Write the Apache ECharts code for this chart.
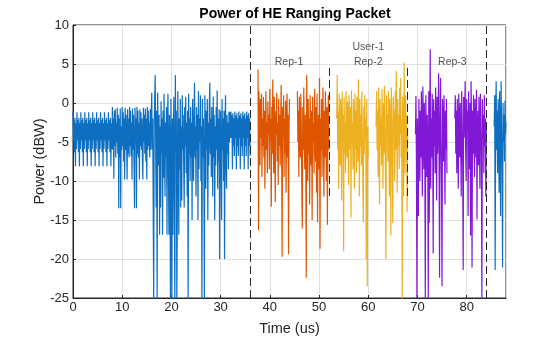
<!DOCTYPE html>
<html>
<head>
<meta charset="utf-8">
<script src="https://cdn.jsdelivr.net/npm/echarts@6/dist/echarts.min.js"></script>
<style>html,body{margin:0;padding:0;background:#fff}#c{width:560px;height:337px}</style>
</head>
<body>
<div id="c"></div>
<script>
// ---- Data (power in dBW) ----
const titleText = 'Power of HE Ranging Packet';
const xLabel = 'Time (us)';
const yLabel = 'Power (dBW)';
const yTicks = [-25, -20, -15, -10, -5, 0, 5, 10];
const xTicks = [0, 10, 20, 30, 40, 50, 60, 70, 80];

// Preamble: 0 .. 36 us, 0.1 us step
const preambleStart = 0, preambleStep = 0.1;
const preamble = [
 -1.2,-4.8,-2.2,-6.3,-1.9,-8.1,-2.6,-5.9, -1.2,-4.8,-2.2,-6.3,-1.9,-8.1,-2.6,-5.9,
 -1.2,-4.8,-2.2,-6.3,-1.9,-8.1,-2.6,-5.9, -1.2,-4.8,-2.2,-6.3,-1.9,-8.1,-2.6,-5.9,
 -1.2,-4.8,-2.2,-6.3,-1.9,-8.1,-2.6,-5.9, -1.2,-4.8,-2.2,-6.3,-1.9,-8.1,-2.6,-5.9,
 -1.2,-4.8,-2.2,-6.3,-1.9,-8.1,-2.6,-5.9, -1.2,-4.8,-2.2,-6.3,-1.9,-8.1,-2.6,-5.9,
 -1.2,-4.8,-2.2,-6.3,-1.9,-8.1,-2.6,-5.9, -1.2,-4.8,-2.2,-6.3,-1.9,-8.1,-2.6,-5.9,
 -0.5,-6.0,-2.0,-9.7,-1.0,-5.5,-0.8,-7.0,-2.5,-5.0,
 -0.6,-6.5,-1.5,-13.5,-2.0,-7.0,-0.7,-13.5,-3.0,-6.0,
 -0.5,-5.5,-1.2,-7.5,-2.0,-9.8,-0.6,-6.0,-1.5,-5.0,
 -9.8,-0.8,-6.5,-2.0,-7.0,-0.5,-5.5,-1.0,-6.8,-2.5,
 -9.8,-0.7,-6.0,-1.5,-7.5,-13.5,-0.6,-5.0,-2.0,-13.5,
 -0.5,-6.5,-1.0,-7.0,-2.5,-9.8,-0.8,-5.5,-1.2,-6.0,
 -2.0,-7.0,-9.8,-0.6,-5.0,-1.5,-6.5,-0.7,-7.5,-2.0,
 -9.8,-0.5,-6.0,-1.0,-5.5,-2.5,-7.0,-0.8,-6.0,-1.5,
 1.3,-6.0,-2.0,-13.4,-26,-3.0,0.5,3.6,-5.0,-13.4,
 -1.0,-26,1.3,-4.0,-8.0,-1.5,-16.9,-3.0,-13.4,0.2,
 -6.5,-2.0,-16.9,-1.0,-9.6,1.2,-5.0,-12.0,-2.5,-7.0,
 -0.5,-16.9,-3.0,1.2,-9.0,-16.9,-1.5,-5.5,-26,0.5,
 -7.0,-26,-2.0,-16.9,-4.0,0.8,-13.4,-26,3.6,-6.0,
 -1.0,-26,-14.0,1.5,-5.0,-16.9,-2.0,-8.5,0.5,-13.4,
 -3.0,-12.5,1.0,-6.0,-1.5,-8.0,-13.4,-0.5,-5.5,0.8,
 -9.0,-2.5,-12.0,-1.0,-26,1.2,-6.5,-2.0,-10.0,-0.5,
 -7.0,-2.5,-15.0,0.5,-5.5,-10.0,-1.0,2.6,-7.0,-3.0,
 -12.0,-0.5,-6.0,-1.5,-15.0,1.5,-8.5,-2.0,-5.0,1.0,
 -10.0,-3.0,-26,0.5,-7.0,-2.0,-9.0,-26,1.0,-4.0,
 -11.0,-1.0,-6.0,0.5,-15.0,-2.5,-8.0,-0.5,2.6,-6.5,
 -2.0,-9.5,-0.5,-5.0,-12.0,0.8,-7.0,-1.5,-15.0,-3.0,
 -8.0,-0.5,-6.0,1.6,-11.0,-2.0,-7.5,-0.8,-20.0,-4.0,
 -1.0,-9.0,-15.0,0.5,-6.0,-2.0,-10.0,-1.0,-20.0,-3.5,
 1.0,-8.0,-11.0,-1.5,-6.5,-2.5,-8.5,-1.1,-5.0,-1.2,
 -4.5,-1.1,-4.5,-1.6,-8.5,-1.3,-5.5,-2.0,-6.8,-1.1,
 -4.5,-1.6,-8.5,-1.3,-5.5,-2.0,-6.8,-1.1,-4.5,-1.6,
 -8.5,-1.3,-5.5,-2.0,-6.8,-1.1,-4.5,-1.6,-8.5,-1.3,
 -5.5,-2.0,-6.8,-1.1,-4.5,-1.6,-8.5,-1.3,-5.5,-2.0,
 -6.8
];

// Repetition bursts: 0.1 us step
const burstStep = 0.1;
const rep1aStart = 37.6;
const rep1a = [4.3,-16.3,1.5,-3.0,-8.0,0.5,-4.5,1.2,-9.5,-2.0,-5.5,0.8,-7.0,-1.0,-11.0,-3.5,1.5,-6.0,-2.5,-9.0,
 0.2,-4.0,-1.5,-8.5,1.8,-5.0,-2.0,-13.3,-0.5,-6.5,3.0,-3.5,-9.0,0.8,-5.0,-12.7,-1.0,-4.0,1.3,-7.5,
 -2.5,-10.5,0.5,-5.5,-1.5,-8.0,-3.0,2.3,-6.0,-19.7,-0.5,-4.5,1.0,-9.5,-2.0,-6.5,0.3,-11.5,-3.0,1.2,
 -7.0,-1.5,-19.4,-4.0,0.5];
const rep1bStart = 45.6;
const rep1b = [1.5,-5.0,-1.0,-9.5,0.8,-3.5,-7.0,1.2,-2.5,-11.0,-16.1,-0.5,-6.0,2.0,-4.0,-8.5,-1.5,-5.5,-22.4,3.6,
 -3.0,-10.0,0.5,-6.5,-2.0,-13.0,1.0,-4.5,-8.0,-1.0,-15.0,0.8,-5.0,-2.5,-9.0,1.8,-3.5,-7.5,-0.5,-11.5,
 1.2,-15.3,-4.0,-1.5,-8.5,3.2,-18.7,-2.0,-6.0,0.5,-9.5,-3.0,2.0,-5.5,-12.0,-1.0,-7.0,1.5,-4.0,-10.0,
 -0.5,-15.6,-3.0,1.0,-6.0];
const rep2aStart = 53.6;
const rep2a = [-2.0,3.6,-6.0,-1.0,-11.0,1.2,-4.0,-8.0,0.5,-3.0,-12.5,1.5,-5.0,-1.5,-19.0,0.8,-6.5,-2.5,-9.0,1.5,
 -3.5,-7.0,0.2,-4.5,-10.5,1.0,-2.0,-6.0,-0.5,-14.7,1.6,-5.0,-2.5,-8.5,0.5,-3.5,-11.0,1.2,-6.0,-1.0,
 -9.0,0.8,-4.0,-7.5,3.0,-2.5,-12.0,0.5,-5.5,-1.5,-8.0,1.5,-3.5,-10.0,-15.3,-0.5,-6.5,1.0,-4.5,-2.0,
 -20.0,0.5,-23.5,-3.0,-7.0];
const rep2bStart = 61.6;
const rep2b = [-3.0,1.5,-6.0,-1.0,-9.5,2.0,-4.0,-13.0,0.5,-5.5,-2.0,-8.0,1.8,-3.5,-11.0,0.0,-6.5,2.2,-2.5,-9.0,
 -20.0,1.0,-4.5,-1.5,-7.5,1.5,-3.0,-12.0,0.5,-5.0,-17.0,2.0,-2.0,-8.0,-15.4,0.8,-4.0,-1.0,-10.0,1.5,
 -6.0,4.1,-3.0,-11.5,0.5,-5.5,-1.5,-8.5,2.0,-4.0,3.2,-7.0,-2.0,-25.5,0.8,-5.0,-12.0,5.2,-3.0,-9.0,
 1.0,-6.0,-1.5,-14.0,-3.5];
const rep3aStart = 69.6;
const rep3a = [-4.0,0.9,-8.0,-26,-2.0,-6.0,-14.5,0.5,-3.5,-10.0,-1.0,-7.0,1.5,-4.5,-12.0,2.1,-2.5,-8.5,0.0,-5.5,
 -26,1.0,-3.0,-9.5,-1.5,-6.0,-26,1.5,-15.4,-4.0,6.9,-11.0,-2.0,-7.0,1.2,-3.5,-19.3,0.5,-5.5,-1.0,
 -9.0,2.0,-4.0,-12.5,0.8,-6.5,-2.0,3.8,-8.0,-22.4,-1.5,3.2,-5.0,-10.5,-23.5,0.5,-3.0,-7.5,1.0,-4.5,
 -13.0,-1.0,-6.0,0.5,-9.0];
const rep3bStart = 77.6;
const rep3b = [-2.0,1.0,-6.5,-1.0,-9.0,0.5,-4.0,-11.0,1.2,-3.0,-7.0,0.0,-5.0,-12.0,1.5,-2.5,-8.0,-21.4,0.8,-4.5,
 -1.5,2.8,-6.0,-10.0,0.5,-3.5,-1.0,-14.5,1.5,-5.5,-8.5,0.0,-17.0,2.8,-3.0,-21.1,-1.0,-6.5,1.0,-4.0,
 -9.5,0.5,-2.5,-7.0,1.7,-14.9,-3.5,-1.0,-8.0,0.8,-5.0,-11.0,1.2,-3.0,-6.5,-26,0.5,-4.5,-1.5,-9.0,
 1.0,-5.5,-2.0,-12.0,-3.0];
const tailStart = 85.6;
const tail = [-3.0,1.0,-21.4,-2.0,2.8,-6.0,-1.0,-9.0,0.5,-4.0,-11.5,1.5,-5.5,-14.5,2.8,-3.0,-8.0,-21.1,0.0,-5.0,
 -1.5,-7.5,0.3,-4.0,-2.5];

// Boundaries (us) and annotation labels
const fullBoundaries = [36, 84];
const shortBoundaries = [52, 68];
const shortBoundaryRange = [4.5, -12.4];
const annotations = [
  { x: 43.9, y: 5.2, text: 'Rep-1' },
  { x: 60.0, y: 7.2, text: 'User-1' },
  { x: 60.0, y: 5.2, text: 'Rep-2' },
  { x: 77.1, y: 5.2, text: 'Rep-3' }
];

// ---- Build ----
function pts(start, step, vals) {
  return vals.map((v, i) => [Math.round((start + i * step) * 1000) / 1000, v]);
}
const C = { blue: '#0E6FC1', orange: '#DD5500', yellow: '#EDB120', purple: '#8018D6' };
const ink = '#262626';
const font = 'Liberation Sans, Arial, Helvetica, sans-serif';

function lineSeries(data, color, extra) {
  return Object.assign({
    type: 'line', data: data, showSymbol: false, symbol: 'none', clip: true,
    lineStyle: { width: 1.2, color: color }, itemStyle: { color: color },
    animation: false, silent: true, z: 2
  }, extra || {});
}

const markLineData = fullBoundaries.map(x => ({ xAxis: x }))
  .concat(shortBoundaries.map(x => [{ coord: [x, shortBoundaryRange[0]] }, { coord: [x, shortBoundaryRange[1]] }]));

const chart = echarts.init(document.getElementById('c'), null, { renderer: 'canvas' });
chart.setOption({
  animation: false,
  backgroundColor: '#fff',
  title: {
    text: titleText, left: 290, top: 2, textAlign: 'center',
    textStyle: { fontFamily: font, fontSize: 14, fontWeight: 'bold', color: '#000' }
  },
  grid: { left: 73, right: 54, top: 25, bottom: 39, show: true, borderColor: ink, borderWidth: 1,
          containLabel: false, outerBoundsMode: 'none' },
  xAxis: {
    type: 'value', min: 0, max: 88, interval: 10,
    name: xLabel, nameLocation: 'middle', nameGap: 23, nameMoveOverlap: false,
    nameTextStyle: { fontFamily: font, fontSize: 14.5, color: ink },
    axisLine: { show: true, onZero: false, lineStyle: { color: ink } },
    axisTick: { show: true, inside: true, length: 3, lineStyle: { color: ink } },
    axisLabel: { fontFamily: font, fontSize: 13, color: ink, margin: 3, showMaxLabel: false,
      formatter: v => (xTicks.indexOf(v) >= 0 ? String(v) : '') },
    splitLine: { show: true, lineStyle: { color: '#DFDFDF', width: 1 } }
  },
  yAxis: {
    type: 'value', min: -25, max: 10, interval: 5,
    name: yLabel, nameLocation: 'middle', nameGap: 26, nameRotate: 90, nameMoveOverlap: false,
    nameTextStyle: { fontFamily: font, fontSize: 14.5, color: ink },
    axisLine: { show: true, onZero: false, lineStyle: { color: ink } },
    axisTick: { show: true, inside: true, length: 3, lineStyle: { color: ink } },
    axisLabel: { fontFamily: font, fontSize: 13, color: ink, margin: 4,
      formatter: v => (yTicks.indexOf(v) >= 0 ? String(v) : '') },
    splitLine: { show: true, lineStyle: { color: '#DFDFDF', width: 1 } }
  },
  series: [
    lineSeries(pts(preambleStart, preambleStep, preamble), C.blue, {
      markLine: {
        silent: true, symbol: 'none', animation: false, label: { show: false },
        lineStyle: { color: ink, width: 1, type: [8, 4] },
        data: markLineData
      }
    }),
    lineSeries(pts(rep1aStart, burstStep, rep1a), C.orange),
    lineSeries(pts(rep1bStart, burstStep, rep1b), C.orange),
    lineSeries(pts(rep2aStart, burstStep, rep2a), C.yellow),
    lineSeries(pts(rep2bStart, burstStep, rep2b), C.yellow),
    lineSeries(pts(rep3aStart, burstStep, rep3a), C.purple),
    lineSeries(pts(rep3bStart, burstStep, rep3b), C.purple),
    lineSeries(pts(tailStart, burstStep, tail), C.blue),
    {
      type: 'scatter', symbolSize: 0, silent: true, animation: false, z: 5,
      data: annotations.map(a => ({ value: [a.x, a.y], name: a.text })),
      label: {
        show: true, position: 'inside', formatter: p => p.name,
        fontFamily: font, fontSize: 10.5, color: ink,
        verticalAlign: 'middle', align: 'center'
      }
    }
  ]
});
</script>
</body>
</html>
